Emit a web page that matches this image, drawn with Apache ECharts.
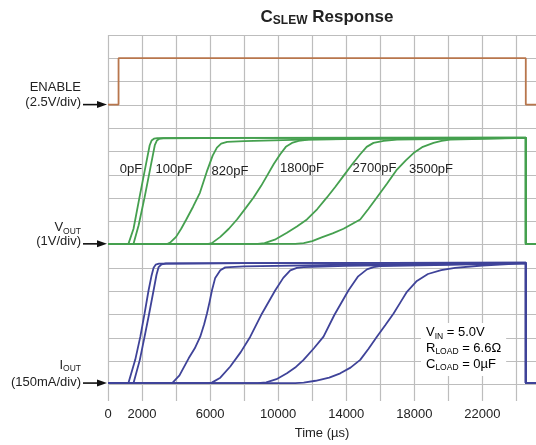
<!DOCTYPE html>
<html><head><meta charset="utf-8">
<script src="https://cdn.jsdelivr.net/npm/echarts@6/dist/echarts.min.js"></script>
<style>html,body{margin:0;padding:0;background:#fff}#c{width:536px;height:445px}</style>
</head><body><div id="c"></div><script>
// ---------- DATA (time in µs) ----------
const xTickLabels = [0, 2000, 6000, 10000, 14000, 18000, 22000];
const capLabels = ['0pF', '100pF', '820pF', '1800pF', '2700pF', '3500pF'];

// ENABLE (V)
const enableT = [0, 620, 620, 24550, 24550, 25150];
const enableV = [0, 0, 5, 5, 0, 0];

// VOUT (V)
const vout0pF_t = [0, 1200, 1310, 1500, 1850, 2250, 2450, 2560, 2700, 2900, 6000, 24550, 24550, 25150];
const vout0pF_v = [0, 0, 0.02, 0.65, 2.0, 3.5, 4.25, 4.45, 4.53, 4.56, 4.57, 4.58, 0, 0];
const vout100pF_t = [0, 1500, 1565, 1800, 2150, 2550, 2750, 2870, 3000, 3250, 8000, 24550, 24550, 25150];
const vout100pF_v = [0, 0, 0.05, 0.8, 2.0, 3.5, 4.25, 4.45, 4.52, 4.55, 4.57, 4.58, 0, 0];
const vout820pF_t = [0, 3500, 3650, 4000, 4300, 4600, 5000, 5400, 5800, 6150, 6400, 6650, 7000, 8000, 12000, 18000, 24550, 24550, 25150];
const vout820pF_v = [0, 0, 0.05, 0.3, 0.65, 1.05, 1.6, 2.2, 3.1, 3.8, 4.15, 4.32, 4.39, 4.43, 4.5, 4.55, 4.57, 0, 0];
const vout1800pF_t = [0, 5900, 6100, 6600, 7100, 7580, 8100, 8555, 9000, 9340, 9750, 10120, 10450, 10810, 11200, 11800, 15000, 24550, 24550, 25150];
const vout1800pF_v = [0, 0, 0.03, 0.3, 0.65, 1.05, 1.55, 2.0, 2.5, 2.93, 3.45, 3.86, 4.18, 4.35, 4.44, 4.49, 4.53, 4.57, 0, 0];
const vout2700pF_t = [0, 8800, 9200, 9800, 10515, 11100, 11690, 12300, 12865, 13350, 13840, 14350, 14820, 15200, 15600, 16200, 16980, 20000, 24550, 24550, 25150];
const vout2700pF_v = [0, 0, 0.03, 0.18, 0.48, 0.75, 1.05, 1.5, 2.0, 2.45, 2.93, 3.43, 3.86, 4.18, 4.35, 4.44, 4.49, 4.53, 4.57, 0, 0];
const vout3500pF_t = [0, 11000, 11500, 12000, 12555, 13200, 13840, 14820, 15300, 15800, 16400, 16980, 17500, 17955, 18500, 19130, 19600, 20110, 22000, 24550, 24550, 25150];
const vout3500pF_v = [0, 0, 0.03, 0.12, 0.28, 0.45, 0.65, 1.05, 1.5, 2.0, 2.6, 3.2, 3.6, 3.91, 4.18, 4.35, 4.44, 4.49, 4.53, 4.57, 0, 0];

// IOUT (mA)
const iout0pF_t = [0, 1200, 1310, 1600, 1900, 2150, 2385, 2550, 2680, 2800, 3000, 8000, 24550, 24550, 25150];
const iout0pF_v = [0, 0, 2, 150, 300, 450, 600, 690, 745, 765, 772, 776, 778, 0, 0];
const iout100pF_t = [0, 1500, 1565, 1870, 2150, 2420, 2680, 2850, 2975, 3150, 3400, 8000, 24550, 24550, 25150];
const iout100pF_v = [0, 0, 2, 150, 300, 450, 600, 700, 750, 768, 773, 776, 778, 0, 0];
const iout820pF_t = [0, 3600, 3800, 4200, 4740, 5100, 5420, 5650, 5815, 5970, 6110, 6300, 6600, 6890, 8000, 14000, 24550, 24550, 25150];
const iout820pF_v = [0, 0, 3, 50, 160, 225, 300, 380, 450, 525, 600, 680, 729, 748, 755, 765, 776, 0, 0];
const iout1800pF_t = [0, 5900, 6100, 6600, 7185, 7800, 8360, 9050, 9830, 10300, 10710, 11100, 11490, 14000, 24550, 24550, 25150];
const iout1800pF_v = [0, 0, 3, 35, 107, 200, 300, 450, 600, 680, 729, 745, 750, 758, 776, 0, 0];
const iout2700pF_t = [0, 8800, 9300, 9900, 10515, 11000, 11490, 12100, 12665, 13300, 14135, 14700, 15215, 15600, 16000, 20000, 24550, 24550, 25150];
const iout2700pF_v = [0, 0, 5, 25, 63, 100, 150, 225, 300, 440, 600, 690, 735, 750, 756, 765, 776, 0, 0];
const iout3500pF_t = [0, 11000, 11500, 12200, 13000, 13650, 14250, 14820, 15300, 15800, 16300, 16780, 17200, 17565, 18150, 18800, 19580, 20390, 22000, 24550, 24550, 25150];
const iout3500pF_v = [0, 0, 3, 15, 35, 63, 100, 150, 220, 300, 375, 450, 525, 590, 660, 705, 730, 745, 760, 776, 0, 0];

// ---------- SCOPE SCALING (divisions) ----------
const ENABLE_OFFSET = 12, ENABLE_SCALE = 2.5;   // 2.5 V/div
const VOUT_OFFSET = 6, VOUT_SCALE = 1;          // 1 V/div
const IOUT_OFFSET = 0, IOUT_SCALE = 150;        // 150 mA/div

const FONT = '"Liberation Sans", Arial, Helvetica, sans-serif';
const GREEN = '#45a04f', BLUE = '#3f4399', ORANGE = '#b8764c', GRID = '#bdbdbd';

function toDiv(ts, vs, off, sc) { return ts.map((t, i) => [t, off + vs[i] / sc]); }
function line(name, data, color) {
  return { name, type: 'line', xAxisIndex: 0, yAxisIndex: 0, data, showSymbol: false, symbol: 'none',
    smooth: false, lineStyle: { color, width: 1.8 }, z: 3, silent: true };
}

const voutSets = [[vout0pF_t, vout0pF_v], [vout100pF_t, vout100pF_v], [vout820pF_t, vout820pF_v],
  [vout1800pF_t, vout1800pF_v], [vout2700pF_t, vout2700pF_v], [vout3500pF_t, vout3500pF_v]];
const ioutSets = [[iout0pF_t, iout0pF_v], [iout100pF_t, iout100pF_v], [iout820pF_t, iout820pF_v],
  [iout1800pF_t, iout1800pF_v], [iout2700pF_t, iout2700pF_v], [iout3500pF_t, iout3500pF_v]];

const series = [line('ENABLE', toDiv(enableT, enableV, ENABLE_OFFSET, ENABLE_SCALE), ORANGE)];
voutSets.forEach((s, i) => series.push(line('VOUT ' + capLabels[i], toDiv(s[0], s[1], VOUT_OFFSET, VOUT_SCALE), GREEN)));
ioutSets.forEach((s, i) => series.push(line('IOUT ' + capLabels[i], toDiv(s[0], s[1], IOUT_OFFSET, IOUT_SCALE), BLUE)));

const chart = echarts.init(document.getElementById('c'), null, { renderer: 'canvas' });
const DIV = 23.3, TOP = 35;
chart.setOption({
  animation: false,
  backgroundColor: '#fff',
  grid: [
    { left: 108, right: 0, top: TOP, bottom: 445 - (TOP + 15 * DIV + 18) },
    { left: 108, right: 0, top: TOP, bottom: 445 - (TOP + 16 * DIV) }
  ],
  xAxis: [
    { type: 'value', gridIndex: 0, min: 0, max: 25150, interval: 2000,
      axisLine: { show: false }, axisTick: { show: false },
      axisLabel: { margin: 7, color: '#222', fontSize: 13, fontFamily: FONT, showMaxLabel: false,
        formatter: v => xTickLabels.includes(v) ? String(v) : '' },
      splitLine: { show: true, showMaxLine: false, lineStyle: { color: GRID, width: 1.2 } },
      name: 'Time (µs)', nameLocation: 'middle', nameGap: 26,
      nameTextStyle: { color: '#222', fontSize: 13, fontFamily: FONT } },
    { type: 'value', gridIndex: 1, min: 0, max: 25150, show: false }
  ],
  yAxis: [
    { type: 'value', gridIndex: 0, min: -18 / DIV, max: 15, show: false, splitLine: { show: false } },
    { type: 'value', gridIndex: 1, min: -1, max: 15, interval: 1,
      axisLine: { show: false }, axisTick: { show: false }, axisLabel: { show: false },
      splitLine: { show: true, showMinLine: false, lineStyle: { color: GRID, width: 1.2 } } }
  ],
  series
});

// ---------- annotations ----------
const px = (t, d) => chart.convertToPixel({ xAxisIndex: 0, yAxisIndex: 0 }, [t, d]);
const yEn = px(0, ENABLE_OFFSET)[1], yVo = px(0, VOUT_OFFSET)[1], yIo = px(0, IOUT_OFFSET)[1];
const x0 = px(0, 0)[0];

function txt(x, y, text, opt) {
  return { type: 'text', x, y, z: 50, style: Object.assign({
    text, font: '13px ' + FONT, fontSize: 13, fontFamily: FONT, fill: '#222',
    align: 'center', textAlign: 'center', verticalAlign: 'middle', textVerticalAlign: 'middle' }, opt || {}) };
}
function arrow(y) {
  return [
    { type: 'line', z: 50, shape: { x1: 83, y1: y, x2: x0 - 8, y2: y }, style: { stroke: '#111', lineWidth: 1.6 } },
    { type: 'polygon', z: 50, shape: { points: [[x0 - 1, y], [x0 - 11, y - 3.5], [x0 - 11, y + 3.5]] }, style: { fill: '#111' } }
  ];
}
const subRich = {
  m: { fontSize: 13, fontFamily: FONT, lineHeight: 16, color: '#222' },
  s: { fontSize: 8.5, fontFamily: FONT, lineHeight: 10, verticalAlign: 'bottom', color: '#222' }
};
const right = { align: 'right', textAlign: 'right' };

const labelPos = [[131, 169], [174, 169], [230, 171], [302, 168], [374.5, 168], [431, 169]];

const graphic = [];
// title
graphic.push(txt(327, 17, '{a|C}{s|SLEW}{a| Response}', { rich: {
  a: { fontSize: 17, fontWeight: 'bold', fontFamily: FONT, lineHeight: 20, color: '#111' },
  s: { fontSize: 12, fontWeight: 'bold', fontFamily: FONT, lineHeight: 12, verticalAlign: 'bottom', color: '#111' } } }));
// left labels
graphic.push(txt(81, yEn - 17, 'ENABLE', right));
graphic.push(txt(81, yEn - 2, '(2.5V/div)', right));
graphic.push(txt(81, yVo - 16, '{m|V}{s|OUT}', Object.assign({ rich: subRich }, right)));
graphic.push(txt(81, yVo - 2, '(1V/div)', right));
graphic.push(txt(81, yIo - 18, '{m|I}{s|OUT}', Object.assign({ rich: subRich }, right)));
graphic.push(txt(81, yIo - 1, '(150mA/div)', right));
graphic.push(...arrow(yEn), ...arrow(yVo), ...arrow(yIo));
// cap labels
capLabels.forEach((c, i) => graphic.push(txt(labelPos[i][0], labelPos[i][1], c)));
// conditions box
graphic.push({ type: 'text', x: 421, y: 323, z: 60, style: {
  text: '{m|V}{s|IN}{m| = 5.0V}\n{m|R}{s|LOAD}{m| = 6.6Ω}\n{m|C}{s|LOAD}{m| = 0µF}',
  rich: { m: { fontSize: 13, fontFamily: FONT, lineHeight: 15.7, color: '#222' },
          s: { fontSize: 8.5, fontFamily: FONT, lineHeight: 9, verticalAlign: 'bottom', color: '#222' } },
  backgroundColor: '#fff', padding: [2, 5, 4, 5],
  align: 'left', textAlign: 'left', verticalAlign: 'top', textVerticalAlign: 'top' } });

chart.setOption({ graphic });
</script></body></html>
